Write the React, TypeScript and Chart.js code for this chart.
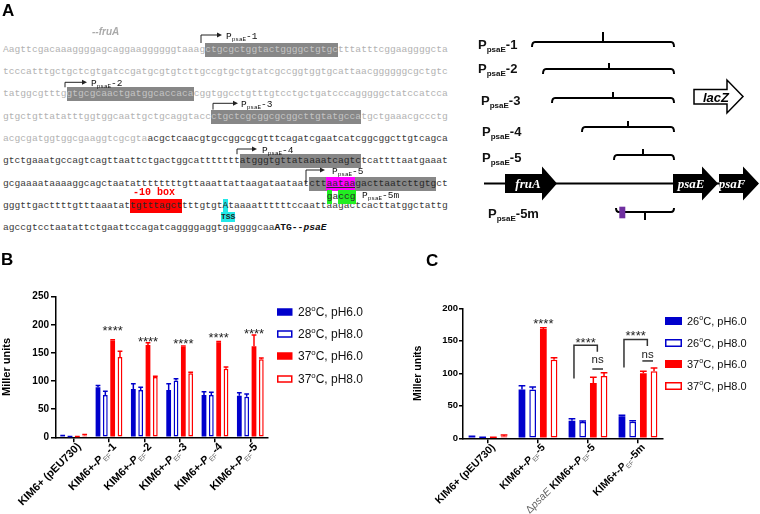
import React, { useEffect, useRef } from 'react';
import { Chart, registerables } from 'chart.js';
Chart.register(...registerables);

const FONT = '"Liberation Sans", Arial, sans-serif';
const MONO = '"Liberation Mono", "DejaVu Sans Mono", monospace';
const BLUE = '#0000cc';
const RED = '#ff0000';

// ---------------- Panel B data ----------------
const bCategories = ['KIM6+ (pEU730)', 'KIM6+-P_{EF}-1', 'KIM6+-P_{EF}-2', 'KIM6+-P_{EF}-3', 'KIM6+-P_{EF}-4', 'KIM6+-P_{EF}-5'];
const bSeries = ['28^oC, pH6.0', '28^oC, pH8.0', '37^oC, pH6.0', '37^oC, pH8.0'];
const b28pH6 = [2, 89, 86, 84, 75, 74];
const b28pH6Err = [1, 3, 9, 11, 6, 5];
const b28pH8 = [1, 75, 84, 101, 75, 72];
const b28pH8Err = [0.5, 7, 5, 3, 5, 5];
const b37pH6 = [1, 172, 164, 161, 169, 162];
const b37pH6Err = [0.5, 1.5, 4, 1.5, 1.5, 20];
const b37pH8 = [3, 143, 107, 114, 122, 139];
const b37pH8Err = [2, 10, 1.5, 1.5, 3, 2];
const bYTicks = [0, 50, 100, 150, 200, 250];
const bStarsY = [null, 194, 175, 171.5, 182, 189];

// ---------------- Panel C data ----------------
const cCategories = ['KIM6+ (pEU730)', 'KIM6+-P_{EF}-5', 'Δ{psaE} KIM6+-P_{EF}-5', 'KIM6+-P_{EF}-5m'];
const cSeries = ['26^oC, pH6.0', '26^oC, pH8.0', '37^oC, pH6.0', '37^oC, pH8.0'];
const c26pH6 = [2, 75, 27, 34];
const c26pH6Err = [1, 6, 3, 1.5];
const c26pH8 = [1, 75, 25, 25.5];
const c26pH8Err = [0.5, 4, 1.5, 1.5];
const c37pH6 = [1, 168, 85, 100];
const c37pH6Err = [0.5, 2, 9, 3];
const c37pH8 = [3, 121, 96, 103];
const c37pH8Err = [2, 3, 5, 5];
const cYTicks = [0, 50, 100, 150, 200];
const cStarsY = [null, 180.5, 151, 162];
const cBracketLeftY = [null, null, 92, 109];
const cBracketTopY = [null, null, 143, 152];
const cBracketRightY = [null, null, 133, 142];
const cNsY = [null, null, 120.5, 128];
const cNsLineY = [null, null, 106.6, 119];

// ---------------- Panel A sequence ----------------
const seqLines: [string, string][][] = [
  [['g', 'Aagttcgacaaaggggagcaggaaggggggtaaag'], ['hg', 'ctgcgctggtactggggctgtgc'], ['g', 'tttatttcggaaggggcta']],
  [['g', 'tcccatttgctgctcgtgatccgatgcgtgtcttgccgtgctgtatcgccggtggtgcattaacggggggcgctgtc']],
  [['g', 'tatggcgtttg'], ['hg', 'gtgcgcaactgatggcaccaca'], ['g', 'cggtggcctgtttgtcctgctgatcccagggggctatccatcca']],
  [['g', 'gtgctgttatatttggtggcaattgctgcaggtacc'], ['hg', 'ctgctcgcggcgcggcttgtatgcca'], ['g', 'tgctgaaacgccctg']],
  [['g', 'acgcgatggtggcgaaggtcgcgta'], ['d', 'acgctcaacgtgccggcgcgtttcagatcgaatcatcggcggcttgtcagca']],
  [['d', 'gtctgaaatgccagtcagttaattctgactggcattttttt'], ['hd', 'atgggtgttataaaatcagtc'], ['d', 'tcattttaatgaaat']],
  [['d', 'gcgaaaataaaaggcagctaatattttttttgttaaattattaagataataat'], ['hd', 'ctt'], ['m', 'aataa'], ['hd', 'gacttaatcttgtg'], ['d', 'ct']],
  [['d', 'gggttgacttttgtttaaatat'], ['r', 'tgtttagct'], ['d', 'tttgtgt'], ['c', 'A'], ['d', 'taaaattttttccaattaagactcacttatggctattg']],
  [['d', 'agccgtcctaatattctgaattccagatcaggggaggtgaggggcaa'], ['b', 'ATG--'], ['bi', 'psaE']],
];

const segStyle: Record<string, React.CSSProperties> = {
  g: { color: '#b2b2b2' },
  d: { color: '#3a3a3a' },
  hg: { color: '#c4c4c4', background: '#878787' },
  hd: { color: '#2a2a2a', background: '#878787' },
  m: { color: '#2a2a2a', background: '#ff00ff', textDecoration: 'underline' },
  r: { color: '#2a2a2a', background: '#ff0000' },
  c: { color: '#2a2a2a', background: '#22e8e8' },
  b: { color: '#111', fontWeight: 'bold' },
  bi: { color: '#111', fontWeight: 'bold', fontStyle: 'italic' },
};

// ---------------- rich text helpers ----------------
type Seg = { t: string; size: number; bold?: boolean; italic?: boolean; dy?: number; color?: string };
function fontOf(s: Seg) {
  return `${s.italic ? 'italic ' : ''}${s.bold ? 'bold ' : ''}${s.size}px ${FONT}`;
}
function drawRich(ctx: CanvasRenderingContext2D, segs: Seg[], x: number, y: number, align: 'left' | 'right') {
  ctx.save();
  ctx.textBaseline = 'alphabetic';
  ctx.textAlign = 'left';
  let total = 0;
  for (const s of segs) { ctx.font = fontOf(s); total += ctx.measureText(s.t).width; }
  let cx = align === 'right' ? x - total : x;
  for (const s of segs) {
    ctx.font = fontOf(s);
    ctx.fillStyle = s.color || '#000';
    ctx.fillText(s.t, cx, y + (s.dy || 0));
    cx += ctx.measureText(s.t).width;
  }
  ctx.restore();
}
function parseLabel(lab: string, size: number): Seg[] {
  const segs: Seg[] = [];
  const re = /P_\{([^}]*)\}|Δ\{([^}]*)\}/g;
  let last = 0;
  let m: RegExpExecArray | null;
  while ((m = re.exec(lab))) {
    if (m.index > last) segs.push({ t: lab.slice(last, m.index), size, bold: true });
    if (m[1] !== undefined) {
      segs.push({ t: 'P', size, bold: true, italic: true });
      segs.push({ t: m[1], size: size * 0.62, color: '#666', dy: size * 0.25 });
    } else {
      segs.push({ t: 'Δ', size, color: '#666' });
      segs.push({ t: m[2], size, italic: true, color: '#666' });
    }
    last = re.lastIndex;
  }
  if (last < lab.length) segs.push({ t: lab.slice(last), size, bold: true });
  return segs;
}
function parseLegend(lab: string, size: number): Seg[] {
  const parts = lab.split('^o');
  const segs: Seg[] = [{ t: parts[0], size, color: '#111' }];
  if (parts.length > 1) {
    segs.push({ t: 'o', size: size * 0.65, dy: -size * 0.42, color: '#111' });
    segs.push({ t: parts[1], size, color: '#111' });
  }
  return segs;
}

type PanelCfg = {
  left: number; top: number; width: number; height: number;
  labels: string[]; series: string[]; values: number[][]; errors: number[][];
  yTicks: number[]; padL: number; padT: number; padR: number; yW: number; xH: number;
  tickSize: number; tickPad: number; yTickLen: number; titleSize: number;
  catPct: number; barPct: number; lblSize: number; lblDx: number; lblDy: number;
  legX: number; legW: number; legH: number; legYs: number[]; legTx: number; legSize: number;
  annotate: (chart: any, ctx: CanvasRenderingContext2D) => void;
};

const colors = [BLUE, BLUE, RED, RED];

function BarPanel({ cfg }: { cfg: PanelCfg }) {
  const ref = useRef<HTMLCanvasElement>(null);
  useEffect(() => {
    const c = cfg;
    const datasets: any[] = c.values.map((vals, i) => ({
      label: c.series[i],
      data: vals,
      errs: c.errors[i],
      backgroundColor: i % 2 === 0 ? colors[i] : '#ffffff',
      borderColor: colors[i],
      borderWidth: i % 2 === 0 ? 0 : 1.5,
      borderSkipped: false,
      categoryPercentage: c.catPct,
      barPercentage: c.barPct,
    }));
    const errorPlugin = {
      id: 'errs',
      afterDatasetsDraw(chart: any) {
        const ctx = chart.ctx;
        const ys = chart.scales.y;
        chart.data.datasets.forEach((ds: any, i: number) => {
          const meta = chart.getDatasetMeta(i);
          meta.data.forEach((bar: any, j: number) => {
            const v = ds.data[j];
            const e = ds.errs[j];
            const y0 = ys.getPixelForValue(v);
            const y1 = ys.getPixelForValue(v + e);
            const w = bar.width;
            ctx.save();
            ctx.strokeStyle = ds.borderColor;
            ctx.lineWidth = 1.5;
            ctx.beginPath();
            ctx.moveTo(bar.x, y0);
            ctx.lineTo(bar.x, y1);
            ctx.moveTo(bar.x - w / 2, y1);
            ctx.lineTo(bar.x + w / 2, y1);
            ctx.stroke();
            ctx.restore();
          });
        });
        c.annotate(chart, ctx);
      },
    };
    const labelPlugin = {
      id: 'xlabels',
      afterDraw(chart: any) {
        const ctx = chart.ctx;
        const xs = chart.scales.x;
        const base = chart.chartArea.bottom;
        (chart.data.labels as string[]).forEach((lab, j) => {
          const x = xs.getPixelForTick(j);
          ctx.save();
          ctx.translate(x + c.lblDx, base + c.lblDy);
          ctx.rotate(-Math.PI / 4);
          drawRich(ctx, parseLabel(lab, c.lblSize), 0, c.lblSize * 0.36, 'right');
          ctx.restore();
        });
        // legend
        chart.data.datasets.forEach((ds: any, i: number) => {
          const cy = c.legYs[i];
          ctx.save();
          if (i % 2 === 0) {
            ctx.fillStyle = ds.borderColor;
            ctx.fillRect(c.legX, cy - c.legH / 2, c.legW, c.legH);
          } else {
            ctx.fillStyle = '#fff';
            ctx.fillRect(c.legX, cy - c.legH / 2, c.legW, c.legH);
            ctx.strokeStyle = ds.borderColor;
            ctx.lineWidth = 1.5;
            ctx.strokeRect(c.legX + 0.75, cy - c.legH / 2 + 0.75, c.legW - 1.5, c.legH - 1.5);
          }
          ctx.restore();
          drawRich(ctx, parseLegend(ds.label, c.legSize), c.legTx, cy + c.legSize * 0.36, 'left');
        });
      },
    };
    const chart = new Chart(ref.current as HTMLCanvasElement, {
      type: 'bar',
      data: { labels: c.labels, datasets },
      options: {
        responsive: false,
        animation: false,
        devicePixelRatio: 1,
        layout: { padding: { left: c.padL, top: c.padT, right: c.padR, bottom: 0 } },
        plugins: { legend: { display: false }, tooltip: { enabled: false } },
        scales: {
          x: {
            grid: { display: true, drawOnChartArea: false, drawTicks: true, tickLength: 5, color: '#000', lineWidth: 1.5, offset: false },
            border: { display: true, color: '#000', width: 1.5 },
            ticks: { callback: () => '', autoSkip: false, maxRotation: 0 },
            afterFit: (s: any) => { s.height = c.xH; },
          },
          y: {
            min: 0,
            max: c.yTicks[c.yTicks.length - 1],
            afterBuildTicks: (s: any) => { s.ticks = c.yTicks.map((v) => ({ value: v })); },
            ticks: { color: '#000', font: { family: FONT, size: c.tickSize, weight: 'bold' }, padding: c.tickPad },
            grid: { drawOnChartArea: false, drawTicks: true, tickLength: c.yTickLen, color: '#000', lineWidth: 1.5 },
            border: { display: true, color: '#000', width: 1.5 },
            title: { display: true, text: 'Miller units', color: '#000', font: { family: FONT, size: c.titleSize, weight: 'bold' }, padding: 0 },
            afterFit: (s: any) => { s.width = c.yW; },
          },
        },
      } as any,
      plugins: [errorPlugin, labelPlugin],
    });
    return () => chart.destroy();
  }, []);
  return (
    <canvas
      ref={ref}
      width={cfg.width}
      height={cfg.height}
      style={{ position: 'absolute', left: cfg.left, top: cfg.top, width: cfg.width, height: cfg.height }}
    />
  );
}

function centerText(ctx: CanvasRenderingContext2D, t: string, x: number, y: number, size: number, baseOff: number) {
  ctx.save();
  ctx.font = `${size}px ${FONT}`;
  ctx.fillStyle = '#222';
  ctx.textAlign = 'center';
  ctx.textBaseline = 'alphabetic';
  ctx.fillText(t, x, y + baseOff);
  ctx.restore();
}

const bCfg: PanelCfg = {
  left: 0, top: 250, width: 380, height: 264,
  labels: bCategories, series: bSeries,
  values: [b28pH6, b28pH8, b37pH6, b37pH8],
  errors: [b28pH6Err, b28pH8Err, b37pH6Err, b37pH8Err],
  yTicks: bYTicks, padL: 0, padT: 46.7, padR: 112, yW: 56, xH: 76.7,
  tickSize: 10, tickPad: 2, yTickLen: 5, titleSize: 11,
  catPct: 0.83, barPct: 0.65, lblSize: 11, lblDx: 5, lblDy: 7,
  legX: 277, legW: 15.5, legH: 7.5, legYs: [62, 84, 106, 129], legTx: 298, legSize: 12,
  annotate: (chart, ctx) => {
    const ys = chart.scales.y;
    const m2 = chart.getDatasetMeta(2);
    bStarsY.forEach((v, j) => {
      if (v == null) return;
      centerText(ctx, '****', m2.data[j].x, ys.getPixelForValue(v), 13, 7);
    });
  },
};

const cCfg: PanelCfg = {
  left: 380, top: 250, width: 380, height: 264,
  labels: cCategories, series: cSeries,
  values: [c26pH6, c26pH8, c37pH6, c37pH8],
  errors: [c26pH6Err, c26pH8Err, c37pH6Err, c37pH8Err],
  yTicks: cYTicks, padL: 32, padT: 58.3, padR: 97, yW: 51, xH: 75.7,
  tickSize: 9.5, tickPad: 1, yTickLen: 4, titleSize: 10.5,
  catPct: 0.855, barPct: 0.63, lblSize: 10.5, lblDx: 5, lblDy: 7,
  legX: 285, legW: 17, legH: 8, legYs: [71, 93, 114, 136], legTx: 307, legSize: 11,
  annotate: (chart, ctx) => {
    const ys = chart.scales.y;
    const m = [0, 1, 2, 3].map((k) => chart.getDatasetMeta(k));
    cStarsY.forEach((v, j) => {
      if (v == null) return;
      const lY = cBracketLeftY[j];
      let sx = m[2].data[j].x;
      if (lY != null) {
        const xl = m[0].data[j].x + 2;
        const xr = m[2].data[j].x + 4;
        sx = (xl + xr) / 2;
        ctx.save();
        ctx.strokeStyle = '#333';
        ctx.lineWidth = 1.5;
        ctx.beginPath();
        ctx.moveTo(xl, ys.getPixelForValue(lY));
        ctx.lineTo(xl, ys.getPixelForValue(cBracketTopY[j] as number));
        ctx.lineTo(xr, ys.getPixelForValue(cBracketTopY[j] as number));
        ctx.lineTo(xr, ys.getPixelForValue(cBracketRightY[j] as number));
        ctx.stroke();
        const nl = ys.getPixelForValue(cNsLineY[j] as number);
        ctx.beginPath();
        ctx.moveTo(m[2].data[j].x - 1, nl);
        ctx.lineTo(m[3].data[j].x - 1, nl);
        ctx.stroke();
        ctx.restore();
        centerText(ctx, 'ns', (m[2].data[j].x + m[3].data[j].x) / 2 - 1, ys.getPixelForValue(cNsY[j] as number), 11.5, 3);
      }
      centerText(ctx, '****', sx, ys.getPixelForValue(v), 13, 7);
    });
  },
};

// ---------------- Panel A ----------------
const SEQ_Y0 = 49.7;
const SEQ_DY = 22.3;

function Sequence() {
  return (
    <>
      {seqLines.map((line, i) => (
        <div
          key={i}
          style={{
            position: 'absolute', left: 3, top: SEQ_Y0 + SEQ_DY * i - 7, height: 14,
            fontFamily: MONO, fontSize: 9.63, lineHeight: '14px', whiteSpace: 'pre',
          }}
        >
          {line.map(([k, t], j) => (
            <span key={j} style={{ display: 'inline-block', height: 14, verticalAlign: 'top', ...segStyle[k] }}>{t}</span>
          ))}
        </div>
      ))}
      <div style={{ position: 'absolute', left: 326.7, top: 190, height: 14, fontFamily: MONO, fontSize: 9.63, lineHeight: '14px', whiteSpace: 'pre', color: '#2a2a2a' }}>
        <span style={{ display: 'inline-block', height: 14, verticalAlign: 'top', background: '#22ee22' }}>g</span>
        <span style={{ display: 'inline-block', height: 14, verticalAlign: 'top' }}>a</span>
        <span style={{ display: 'inline-block', height: 14, verticalAlign: 'top', background: '#22ee22' }}>ccg</span>
      </div>
      <div style={{ position: 'absolute', left: 221, top: 212, width: 14, height: 10, background: '#22e8e8', fontFamily: MONO, fontWeight: 'bold', fontSize: 8, lineHeight: '10px', textAlign: 'center', color: '#222' }}>TSS</div>
    </>
  );
}

const seqArrows = [
  { x: 201, y: 35, yb: 43, tip: 222, lx: 226, n: '-1' },
  { x: 65, y: 82.3, yb: 87.3, tip: 87, lx: 91, n: '-2' },
  { x: 213, y: 103.3, yb: 109.6, tip: 238, lx: 241, n: '-3' },
  { x: 237, y: 149, yb: 154.2, tip: 257, lx: 262, n: '-4' },
  { x: 306, y: 170, yb: 184, tip: 325, lx: 332, n: '-5' },
];

const brackets = [
  { n: '-1', lx: 478, ly: 48.7, x1: 532, x2: 674, y: 42, t: 603, th: 10 },
  { n: '-2', lx: 478, ly: 73, x1: 543, x2: 674, y: 69, t: 609, th: 6 },
  { n: '-3', lx: 481, ly: 104.7, x1: 552, x2: 674, y: 98, t: 613, th: 6 },
  { n: '-4', lx: 482, ly: 135.7, x1: 582, x2: 674, y: 127, t: 628, th: 6 },
  { n: '-5', lx: 482, ly: 161.7, x1: 614, x2: 674, y: 155, t: 643, th: 6 },
];

function PLabel({ x, y, n, big }: { x: number; y: number; n: string; big?: boolean }) {
  if (big) {
    return (
      <text x={x} y={y} fontFamily={FONT} fontWeight="bold" fontSize={13} fill="#111">
        P<tspan fontSize={8} dy={3}>psaE</tspan><tspan fontSize={13} dy={-3}>{n}</tspan>
      </text>
    );
  }
  return (
    <text x={x} y={y} fontFamily={MONO} fontSize={9.5} fill="#111">
      P<tspan fontSize={6} dy={2}>psaE</tspan><tspan fontSize={9.5} dy={-2}>{n}</tspan>
    </text>
  );
}

function arrowPts(x0: number, x1: number, tip: number, yb0: number, yb1: number, yh0: number, yh1: number) {
  const ym = (yh0 + yh1) / 2;
  return `${x0},${yb0} ${x1},${yb0} ${x1},${yh0} ${tip},${ym} ${x1},${yh1} ${x1},${yb1} ${x0},${yb1}`;
}

function Overlay() {
  return (
    <svg width={760} height={514} style={{ position: 'absolute', left: 0, top: 0, pointerEvents: 'none' }}>
      <text x={2} y={16} fontFamily={FONT} fontWeight="bold" fontSize={17} fill="#000">A</text>
      <text x={1} y={265} fontFamily={FONT} fontWeight="bold" fontSize={17} fill="#000">B</text>
      <text x={426} y={266} fontFamily={FONT} fontWeight="bold" fontSize={17} fill="#000">C</text>
      <text x={92} y={35} fontFamily={FONT} fontWeight="bold" fontStyle="italic" fontSize={10} fill="#aaa">--fruA</text>

      {seqArrows.map((a, i) => (
        <g key={i}>
          <path d={`M ${a.x} ${a.yb} L ${a.x} ${a.y} L ${a.tip - 4} ${a.y}`} stroke="#222" strokeWidth={1} fill="none" />
          <polygon points={`${a.tip},${a.y} ${a.tip - 5},${a.y - 2.5} ${a.tip - 5},${a.y + 2.5}`} fill="#222" />
          <PLabel x={a.lx} y={a.y + 3.5} n={a.n} />
        </g>
      ))}
      <PLabel x={362} y={197.5} n="-5m" />
      <text x={133} y={195} fontFamily={MONO} fontWeight="bold" fontSize={10} fill="#ff0000">-10 box</text>

      {brackets.map((b, i) => (
        <g key={i}>
          <path d={`M ${b.x1} ${b.y + 5} Q ${b.x1} ${b.y} ${b.x1 + 3} ${b.y} L ${b.x2 - 3} ${b.y} Q ${b.x2} ${b.y} ${b.x2} ${b.y + 5} M ${b.t} ${b.y} L ${b.t} ${b.y - b.th}`} stroke="#000" strokeWidth={2} fill="none" />
          <PLabel x={b.lx} y={b.ly} n={b.n} big />
        </g>
      ))}
      <path d="M 616 208 Q 616 212 619 212 L 671 212 Q 674 212 674 208 M 645 212 L 645 220" stroke="#000" strokeWidth={2} fill="none" />
      <rect x={619.3} y={206.7} width={6} height={11.6} fill="#7030a0" />
      <PLabel x={488} y={217.7} n="-5m" big />

      <line x1={484} y1={183.5} x2={758} y2={183.5} stroke="#000" strokeWidth={2} />
      <polygon points={arrowPts(505, 542, 557, 174, 193, 166.5, 200.5)} fill="#000" />
      <polygon points={arrowPts(673, 702, 718, 174, 193, 166.5, 200.5)} fill="#000" />
      <polygon points={arrowPts(719, 743, 759, 174, 193, 166.5, 200.5)} fill="#000" />
      <text x={528} y={188} textAnchor="middle" fontFamily='"Liberation Serif", serif' fontWeight="bold" fontStyle="italic" fontSize={13} fill="#fff">fruA</text>
      <text x={691} y={188} textAnchor="middle" fontFamily='"Liberation Serif", serif' fontWeight="bold" fontStyle="italic" fontSize={13} fill="#fff">psaE</text>
      <text x={732} y={188} textAnchor="middle" fontFamily='"Liberation Serif", serif' fontWeight="bold" fontStyle="italic" fontSize={13} fill="#fff">psaF</text>

      <polygon points={arrowPts(694, 727, 743, 89.5, 104, 80, 113)} fill="#fff" stroke="#000" strokeWidth={1.5} />
      <text x={703} y={101.5} fontFamily={FONT} fontWeight="bold" fontStyle="italic" fontSize={13} fill="#000">lacZ</text>
    </svg>
  );
}

export default function App() {
  return (
    <div style={{ position: 'absolute', left: 0, top: 0, width: 760, height: 514, background: '#fff', overflow: 'hidden', fontFamily: FONT }}>
      <Sequence />
      <BarPanel cfg={bCfg} />
      <BarPanel cfg={cCfg} />
      <Overlay />
    </div>
  );
}
